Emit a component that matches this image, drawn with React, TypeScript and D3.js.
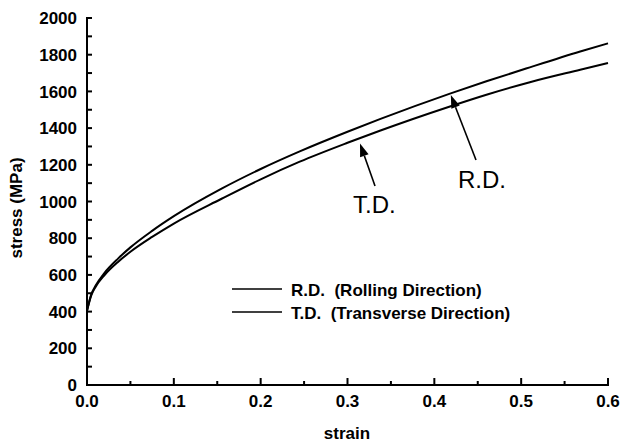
import React from "react";
import * as d3 from "d3";

const strain = [0, 0.005, 0.01, 0.02, 0.036, 0.05, 0.075, 0.1, 0.155, 0.2, 0.245, 0.3, 0.338, 0.418, 0.46, 0.51, 0.568, 0.6];
const rdStress = [405, 495, 542, 610, 690, 750, 840, 920, 1070, 1177, 1273, 1380, 1450, 1588, 1655, 1731, 1817, 1862];
const tdStress = [405, 490, 536, 598, 672, 726, 807, 880, 1015, 1121, 1217, 1320, 1387, 1518, 1582, 1650, 1718, 1755];

const xTicks = [0, 0.1, 0.2, 0.3, 0.4, 0.5, 0.6];
const xMinor = [0.05, 0.15, 0.25, 0.35, 0.45, 0.55];
const yTicks = [0, 200, 400, 600, 800, 1000, 1200, 1400, 1600, 1800, 2000];
const yMinor = [100, 300, 500, 700, 900, 1100, 1300, 1500, 1700, 1900];

const legendLabels = ["R.D.  (Rolling Direction)", "T.D.  (Transverse Direction)"];
// annotations: label, label position, arrow tail, arrow tip (data coords)
const annoLabels = ["R.D.", "T.D."];
const annoText = [[0.4273, 1074], [0.3063, 940]];
const annoTail = [[0.448, 1226], [0.3317, 1084]];
const annoTip = [[0.419, 1580], [0.3144, 1316]];

const W = 623, H = 443;
const FONT = "'Liberation Sans', Arial, sans-serif";

export default function App() {
  const x = d3.scaleLinear().domain([0, 0.6]).range([87, 608]);
  const y = d3.scaleLinear().domain([0, 2000]).range([385, 18]);
  const line = d3
    .line<number>()
    .x((_, i) => x(strain[i]))
    .y((d) => y(d))
    .curve(d3.curveMonotoneX);

  const arrow = (i: number) => {
    const x1 = x(annoTail[i][0]), y1 = y(annoTail[i][1]);
    const x2 = x(annoTip[i][0]), y2 = y(annoTip[i][1]);
    const dx = x2 - x1, dy = y2 - y1;
    const len = Math.hypot(dx, dy);
    const ux = dx / len, uy = dy / len;
    const hl = 13, hw = 4.5;
    const bx = x2 - ux * hl, by = y2 - uy * hl;
    const pts = [
      [x2, y2],
      [bx - uy * hw, by + ux * hw],
      [bx + uy * hw, by - ux * hw],
    ];
    return (
      <g key={"a" + i}>
        <line x1={x1} y1={y1} x2={bx} y2={by} stroke="#000" strokeWidth={1.6} />
        <polygon points={pts.map((p) => p.join(",")).join(" ")} fill="#000" />
      </g>
    );
  };

  return (
    <svg
      width={W}
      height={H}
      style={{ position: "absolute", left: 0, top: 0, background: "#fff" }}
      fontFamily={FONT}
    >
      <rect x={0} y={0} width={W} height={H} fill="#fff" />
      {/* curves */}
      <path d={line(rdStress) || ""} fill="none" stroke="#000" strokeWidth={2} />
      <path d={line(tdStress) || ""} fill="none" stroke="#000" strokeWidth={2} />

      {/* axes */}
      <line x1={x(0)} y1={y(0)} x2={x(0.6)} y2={y(0)} stroke="#000" strokeWidth={2} strokeLinecap="square" />
      <line x1={x(0)} y1={y(0)} x2={x(0)} y2={y(2000)} stroke="#000" strokeWidth={2} strokeLinecap="square" />
      {xTicks.map((t) => (
        <g key={"xt" + t}>
          <line x1={x(t)} x2={x(t)} y1={y(0)} y2={y(0) - 7} stroke="#000" strokeWidth={2} />
          <text x={x(t)} y={407} textAnchor="middle" fontSize={17} fontWeight="bold">
            {d3.format(".1f")(t)}
          </text>
        </g>
      ))}
      {xMinor.map((t) => (
        <line key={"xm" + t} x1={x(t)} x2={x(t)} y1={y(0)} y2={y(0) - 4} stroke="#000" strokeWidth={2} />
      ))}
      {yTicks.map((t) => (
        <g key={"yt" + t}>
          <line x1={x(0)} x2={x(0) + 5} y1={y(t)} y2={y(t)} stroke="#000" strokeWidth={2} />
          <text x={77} y={y(t)} dy="0.36em" textAnchor="end" fontSize={17} fontWeight="bold">
            {t}
          </text>
        </g>
      ))}
      {yMinor.map((t) => (
        <line key={"ym" + t} x1={x(0)} x2={x(0) + 5} y1={y(t)} y2={y(t)} stroke="#000" strokeWidth={2} />
      ))}

      {/* axis titles */}
      <text x={347} y={439} textAnchor="middle" fontSize={17} fontWeight="bold">
        strain
      </text>
      <text
        transform="translate(22,208) rotate(-90)"
        textAnchor="middle"
        fontSize={17}
        fontWeight="bold"
      >
        stress (MPa)
      </text>

      {/* legend */}
      {legendLabels.map((l, i) => (
        <g key={"lg" + i}>
          <line x1={232} x2={282} y1={289 + i * 23} y2={289 + i * 23} stroke="#000" strokeWidth={1.6} />
          <text x={291} y={296 + i * 23} fontSize={17} fontWeight="bold" style={{ whiteSpace: "pre" }}>
            {l}
          </text>
        </g>
      ))}

      {/* annotations */}
      {annoLabels.map((l, i) => (
        <text key={"al" + i} x={x(annoText[i][0])} y={y(annoText[i][1])} fontSize={24}>
          {l}
        </text>
      ))}
      {annoLabels.map((_, i) => arrow(i))}
    </svg>
  );
}
